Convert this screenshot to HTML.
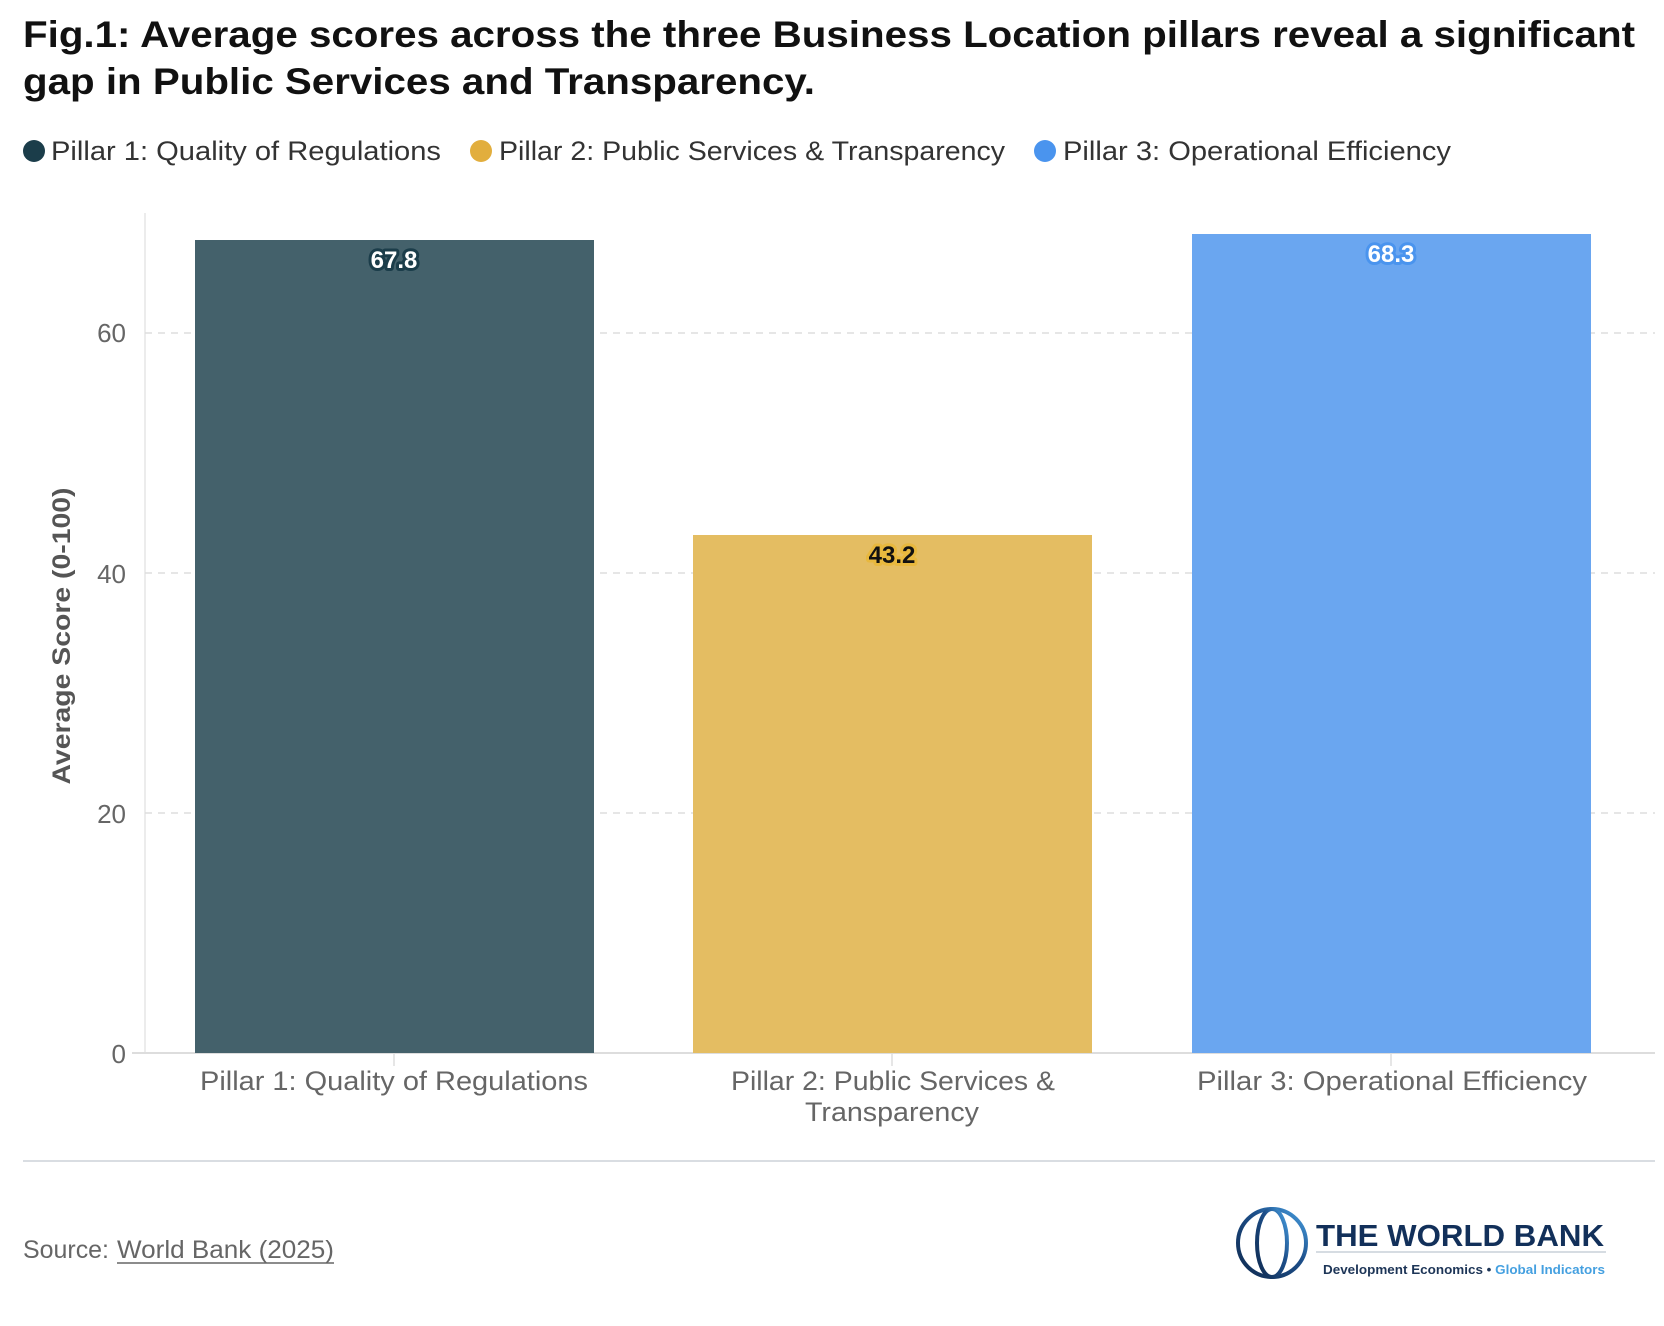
<!DOCTYPE html>
<html><head><meta charset="utf-8"><style>
html,body{margin:0;padding:0;background:#fff;}
svg{display:block;font-family:"Liberation Sans",sans-serif;}
</style></head><body>
<svg width="1664" height="1326" viewBox="0 0 1664 1326" xmlns="http://www.w3.org/2000/svg">
<defs>
<linearGradient id="g" x1="0" y1="1" x2="1" y2="0"><stop offset="0" stop-color="#0f2a4f"/><stop offset="0.6" stop-color="#1d4f8a"/><stop offset="1" stop-color="#4aa3e6"/></linearGradient>
</defs>
<text x="23" y="47" font-size="37" font-weight="bold" fill="#111" textLength="1612" lengthAdjust="spacingAndGlyphs">Fig.1: Average scores across the three Business Location pillars reveal a significant</text>
<text x="23" y="94" font-size="37" font-weight="bold" fill="#111" textLength="792" lengthAdjust="spacingAndGlyphs">gap in Public Services and Transparency.</text>

<circle cx="34" cy="151" r="11" fill="#1b3d4a"/>
<text x="51" y="160" font-size="27" fill="#333" textLength="390" lengthAdjust="spacingAndGlyphs">Pillar 1: Quality of Regulations</text>
<circle cx="481" cy="151" r="11" fill="#e2ae3d"/>
<text x="499" y="160" font-size="27" fill="#333" textLength="506" lengthAdjust="spacingAndGlyphs">Pillar 2: Public Services &amp; Transparency</text>
<circle cx="1045" cy="151" r="11" fill="#4a94ee"/>
<text x="1063" y="160" font-size="27" fill="#333" textLength="388" lengthAdjust="spacingAndGlyphs">Pillar 3: Operational Efficiency</text>

<line x1="145" y1="213" x2="145" y2="1053" stroke="#e6e6e6" stroke-width="1.5"/>
<g stroke="#dddddd" stroke-width="1.5" stroke-dasharray="7,6">
<line x1="145" y1="333" x2="1655" y2="333"/>
<line x1="145" y1="573" x2="1655" y2="573"/>
<line x1="145" y1="813" x2="1655" y2="813"/>
</g>
<line x1="132" y1="1053" x2="1655" y2="1053" stroke="#dddddd" stroke-width="2"/>

<rect x="195" y="240" width="399" height="813" fill="#44616b"/>
<rect x="693" y="535" width="399" height="518" fill="#e4bd62"/>
<rect x="1192" y="234" width="399" height="819" fill="#6aa6f0"/>

<g font-size="24" font-weight="bold" text-anchor="middle" stroke-width="6" paint-order="stroke" stroke-linejoin="round">
<text x="394" y="268" fill="#fff" stroke="#1b3d4a">67.8</text>
<text x="892" y="563" fill="#111" stroke="#e8b83e">43.2</text>
<text x="1391" y="262" fill="#fff" stroke="#4a94ee">68.3</text>
</g>

<g stroke="#dddddd" stroke-width="1.5">
<line x1="394" y1="1053" x2="394" y2="1066"/>
<line x1="892" y1="1053" x2="892" y2="1066"/>
<line x1="1391" y1="1053" x2="1391" y2="1066"/>
</g>

<g font-size="26" fill="#666" text-anchor="end">
<text x="126" y="342">60</text>
<text x="126" y="583">40</text>
<text x="126" y="823">20</text>
<text x="126" y="1063">0</text>
</g>
<text transform="translate(70,636) rotate(-90)" font-size="25" font-weight="bold" fill="#555" text-anchor="middle" textLength="297" lengthAdjust="spacingAndGlyphs">Average Score (0-100)</text>

<g font-size="27" fill="#666">
<text x="200" y="1090" textLength="388" lengthAdjust="spacingAndGlyphs">Pillar 1: Quality of Regulations</text>
<text x="731" y="1090" textLength="324" lengthAdjust="spacingAndGlyphs">Pillar 2: Public Services &amp;</text>
<text x="805" y="1121" textLength="174" lengthAdjust="spacingAndGlyphs">Transparency</text>
<text x="1197" y="1090" textLength="390" lengthAdjust="spacingAndGlyphs">Pillar 3: Operational Efficiency</text>
</g>

<line x1="23" y1="1161" x2="1655" y2="1161" stroke="#d9dde2" stroke-width="2"/>

<text x="23" y="1258" font-size="25" fill="#666"><tspan textLength="86" lengthAdjust="spacingAndGlyphs">Source:</tspan><tspan x="117" textLength="217" lengthAdjust="spacingAndGlyphs">World Bank (2025)</tspan></text>
<line x1="117" y1="1263" x2="334" y2="1263" stroke="#666" stroke-width="1.5"/>

<g fill="none" stroke="url(#g)" stroke-width="4">
<circle cx="1272" cy="1243" r="34"/>
<ellipse cx="1272" cy="1243" rx="15" ry="34"/>
<line x1="1272" y1="1209" x2="1272" y2="1277"/>
<line x1="1240" y1="1231" x2="1304" y2="1231"/>
<line x1="1239" y1="1255" x2="1305" y2="1255"/>
</g>
<text x="1316" y="1246" font-size="31" font-weight="bold" fill="#12305a" textLength="288" lengthAdjust="spacingAndGlyphs">THE WORLD BANK</text>
<line x1="1316" y1="1252" x2="1606" y2="1252" stroke="#c9d0d8" stroke-width="1.5"/>
<text x="1323" y="1274" font-size="13" font-weight="bold" fill="#1d3557" textLength="282" lengthAdjust="spacingAndGlyphs">Development Economics • <tspan fill="#45a0e0">Global Indicators</tspan></text>
</svg>
</body></html>
